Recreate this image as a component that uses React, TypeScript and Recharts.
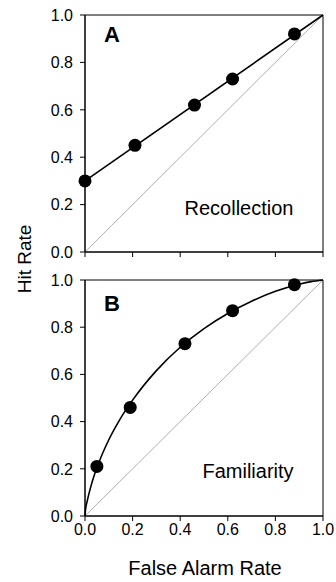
import React from 'react';
import {
  ComposedChart,
  Line,
  Scatter,
  XAxis,
  YAxis,
  ReferenceArea,
} from 'recharts';

// ticks shared by both panels
const TICKS = [0, 0.2, 0.4, 0.6, 0.8, 1.0];

// panel A - recollection
const recolFA = [0, 0.21, 0.46, 0.62, 0.88];
const recolHit = [0.3, 0.45, 0.62, 0.73, 0.92];
const recolFitFA = [0, 1];
const recolFitHit = [0.3, 1.0];

// panel B - familiarity
const famFA = [0.05, 0.19, 0.42, 0.62, 0.88];
const famHit = [0.21, 0.46, 0.73, 0.87, 0.98];
const famCurveFA = [0, 0.002, 0.01, 0.03, 0.06, 0.1, 0.15, 0.2, 0.3, 0.4, 0.5, 0.6, 0.7, 0.8, 0.9, 0.95, 1.0];
const famCurveHit = [0, 0.025, 0.066, 0.144, 0.231, 0.323, 0.415, 0.491, 0.616, 0.715, 0.794, 0.858, 0.91, 0.952, 0.982, 0.993, 1.0];

// chance diagonal
const chanceFA = [0, 1];
const chanceHit = [0, 1];

const toPts = (xs: number[], ys: number[]) => xs.map((x, i) => ({ x, y: ys[i] }));

const FONT = '"Liberation Sans", Arial, sans-serif';

const Dot = (props: any) => <circle cx={props.cx} cy={props.cy} r={6.5} fill="#000" />;

// tick labels drawn by hand so the font size sticks
const TickY = (props: any) => (
  <text x={props.x} y={props.y} dy="0.36em" textAnchor="end" fontSize={16} fill="#000" fontFamily={FONT}>
    {Number(props.payload.value).toFixed(1)}
  </text>
);

const TickX = (props: any) => (
  <text x={props.x} y={props.y} dy="0.75em" textAnchor="middle" fontSize={16} fill="#000" fontFamily={FONT}>
    {Number(props.payload.value).toFixed(1)}
  </text>
);

const SemTick = () => <g />;

interface PainelProps {
  pontos: { x: number; y: number }[];
  ajuste: { x: number; y: number }[];
  altura: number;
  topo: number;
  alturaEixoX: number;
  mostrarRotulosX: boolean;
}

function Painel({ pontos, ajuste, altura, topo, alturaEixoX, mostrarRotulosX }: PainelProps) {
  return (
    <ComposedChart
      width={336}
      height={altura}
      margin={{ top: topo, right: 13, left: 0, bottom: 0 }}
      style={{ fontFamily: FONT }}
    >
      <XAxis
        type="number"
        dataKey="x"
        domain={[0, 1]}
        ticks={TICKS}
        height={alturaEixoX}
        tickSize={5}
        tickMargin={2}
        stroke="#000"
        tick={mostrarRotulosX ? <TickX /> : <SemTick />}
      />
      <YAxis
        type="number"
        dataKey="y"
        domain={[0, 1]}
        ticks={TICKS}
        width={85}
        tickSize={5}
        tickMargin={7}
        stroke="#000"
        tick={<TickY />}
      />
      <ReferenceArea x1={0} x2={1} y1={0} y2={1} fill="none" stroke="#000" strokeWidth={1} />
      <Line
        data={toPts(chanceFA, chanceHit)}
        dataKey="y"
        type="linear"
        stroke="#9a9a9a"
        strokeWidth={0.8}
        dot={false}
        activeDot={false}
        isAnimationActive={false}
      />
      <Line
        data={ajuste}
        dataKey="y"
        type="monotone"
        stroke="#000"
        strokeWidth={1.6}
        dot={false}
        activeDot={false}
        isAnimationActive={false}
      />
      <Scatter data={pontos} dataKey="y" fill="#000" shape={<Dot />} isAnimationActive={false} />
    </ComposedChart>
  );
}

export default function App() {
  return (
    <div style={{ position: 'absolute', left: 0, top: 0, width: 336, height: 582, background: '#fff' }}>
      <div style={{ position: 'absolute', left: 0, top: 0 }}>
        <Painel
          pontos={toPts(recolFA, recolHit)}
          ajuste={toPts(recolFitFA, recolFitHit)}
          altura={262}
          topo={15}
          alturaEixoX={10}
          mostrarRotulosX={false}
        />
      </div>
      <div style={{ position: 'absolute', left: 0, top: 262 }}>
        <Painel
          pontos={toPts(famFA, famHit)}
          ajuste={toPts(famCurveFA, famCurveHit)}
          altura={320}
          topo={18}
          alturaEixoX={66}
          mostrarRotulosX={true}
        />
      </div>
      <svg
        width={336}
        height={582}
        style={{ position: 'absolute', left: 0, top: 0, pointerEvents: 'none', fontFamily: FONT }}
      >
        <text x={112} y={42} textAnchor="middle" fontSize={22} fontWeight="bold" fill="#000">A</text>
        <text x={112} y={311} textAnchor="middle" fontSize={22} fontWeight="bold" fill="#000">B</text>
        <text x={239} y={215} textAnchor="middle" fontSize={20} fill="#000">Recollection</text>
        <text x={248} y={478} textAnchor="middle" fontSize={20} fill="#000">Familiarity</text>
        <text x={205} y={575} textAnchor="middle" fontSize={20} fill="#000">False Alarm Rate</text>
        <text
          transform="translate(31,259) rotate(-90)"
          textAnchor="middle"
          fontSize={19}
          fill="#000"
        >
          Hit Rate
        </text>
      </svg>
    </div>
  );
}
